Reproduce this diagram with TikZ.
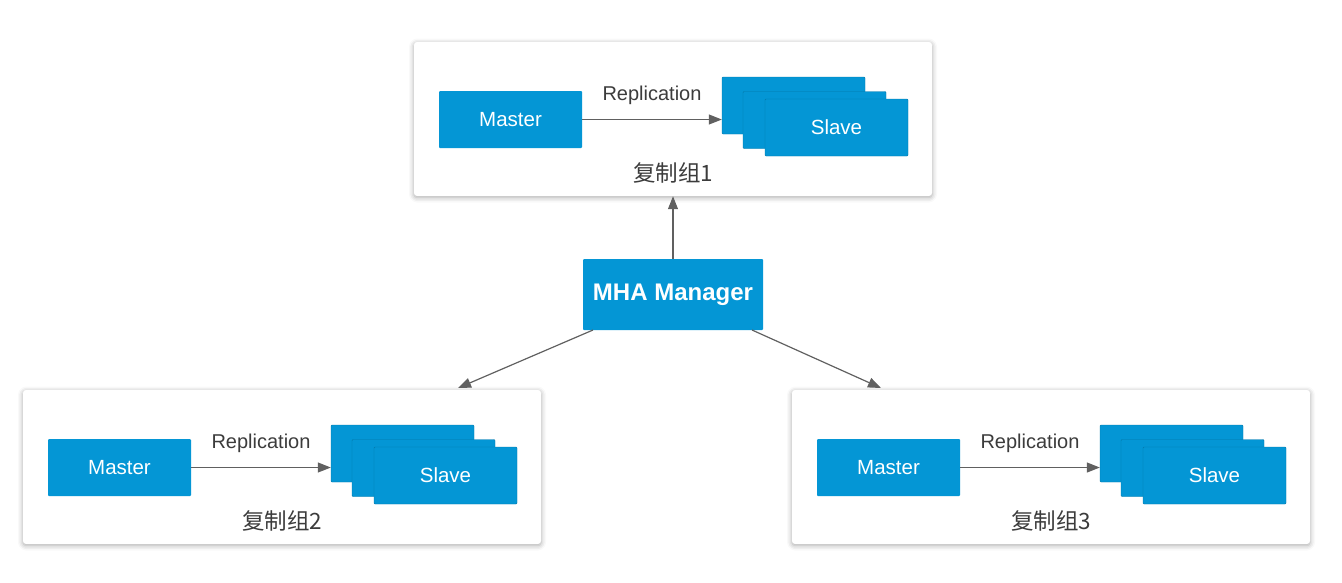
\documentclass[tikz,border=0pt]{standalone}
\usepackage{fontspec}
\setmainfont{Liberation Sans}
\newfontfamily\cjk{Noto Sans CJK SC}
\usetikzlibrary{arrows.meta,shadows.blur,calc}
\definecolor{boxblue}{RGB}{4,150,213}
\definecolor{arrgray}{RGB}{96,96,96}
\definecolor{txtgray}{RGB}{60,60,60}
\tikzset{
  groupbox/.style={draw=none,fill=white,rounded corners=3pt,minimum width=518pt,minimum height=154pt,
    blur shadow={shadow xshift=0pt,shadow yshift=-1.5pt,shadow blur radius=5pt,shadow opacity=35}},
  bluebox/.style={draw=none,fill=boxblue,rounded corners=1pt,minimum width=143pt,minimum height=57pt,
    text=white,font=\fontsize{20.5}{24}\selectfont,inner sep=0pt},
  conn/.style={draw=arrgray,line width=1.2pt,-{Triangle[length=13pt,width=10pt]}},
  repl/.style={text=txtgray,font=\fontsize{20}{24}\selectfont},
  grouplabel/.style={text=txtgray,font=\cjk\fontsize{22.5}{26}\selectfont},
}
\newcommand{\replgroup}[4]{%
  \begin{scope}[shift={(#2,#3)}]
    \node[groupbox] (#1box) at (673,119) {};
    \node[bluebox] (#1m) at (510.5,119.5) {Master};
    \node[bluebox,draw=boxblue!80!black,line width=0.4pt] (#1s1) at (793.5,105.5) {};
    \node[bluebox,draw=boxblue!80!black,line width=0.4pt] (#1s2) at (814.5,120) {};
    \node[bluebox,draw=boxblue!80!black,line width=0.4pt] (#1s3) at (836.5,127.5) {Slave};
    \draw[conn] (#1m.east) -- (#1m.east -| #1s1.west);
    \node[repl] (#1rep) at (652,95) {Replication};
    \node[grouplabel] (#1lab) at (673,173) {复制组#4};
  \end{scope}}
\begin{document}
\begin{tikzpicture}[x=1pt,y=-1pt]
\useasboundingbox (0,0) rectangle (1342,582);
\replgroup{t}{0}{0}{1}
\replgroup{l}{-391}{348}{2}
\replgroup{r}{378}{348}{3}
\node[bluebox,minimum width=180pt,minimum height=71pt,font=\bfseries\fontsize{24}{28}\selectfont] (mgr) at (673,294.5) {MHA Manager};
\coordinate (mgrl) at (593,330);
\coordinate (mgrr) at (752,330);
\coordinate (lend) at (458,388);
\coordinate (rend) at (881,388);
\draw[conn] (mgr.north) -- (tbox.south);
\draw[conn] (mgrl) -- (lend);
\draw[conn] (mgrr) -- (rend);
\end{tikzpicture}
\end{document}
